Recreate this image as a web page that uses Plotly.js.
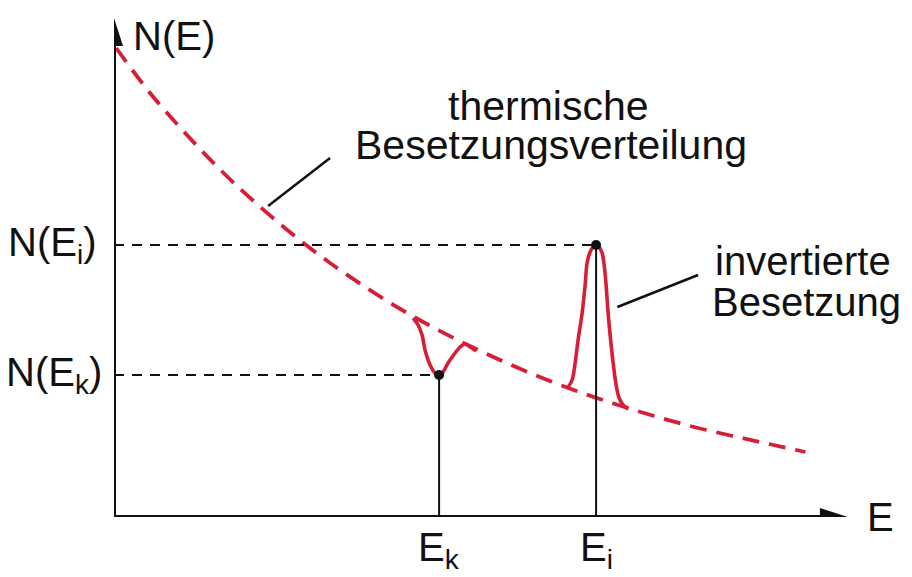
<!DOCTYPE html>
<html>
<head>
<meta charset="utf-8">
<script src="https://cdn.plot.ly/plotly-3.0.1.min.js"></script>
<style>html,body{margin:0;padding:0;background:#fff;}#chart{width:912px;height:577px;}</style>
</head>
<body>
<div id="chart"></div>
<script>
// thermal (Boltzmann) occupation curve
const thermX = [0.03, 0.5, 1, 1.5, 2, 2.5, 3, 3.5, 4, 4.5, 5, 5.5, 6, 6.5, 7, 7.5, 8, 8.5, 9, 9.6];
const thermY = [9.38, 8.48, 7.66, 6.91, 6.24, 5.63, 5.08, 4.59, 4.14, 3.74, 3.38, 3.05, 2.75, 2.48, 2.24, 2.02, 1.82, 1.65, 1.49, 1.30];
// dip around E_k
const dipX = [4.153, 4.222, 4.278, 4.319, 4.389, 4.458, 4.514, 4.569, 4.639, 4.736, 4.806, 4.875, 4.944, 5.028];
const dipY = [3.98, 3.84, 3.64, 3.34, 3.04, 2.88, 2.84, 2.90, 3.08, 3.28, 3.40, 3.46, 3.40, 3.32];
// inverted peak around E_i
const peakX = [6.306, 6.361, 6.403, 6.444, 6.500, 6.542, 6.569, 6.611, 6.653, 6.694, 6.736, 6.778, 6.806, 6.833, 6.861, 6.903, 6.931, 6.972, 7.014, 7.069, 7.139];
const peakY = [2.60, 2.74, 3.08, 3.54, 4.08, 4.64, 5.08, 5.30, 5.40, 5.44, 5.40, 5.28, 5.04, 4.64, 4.08, 3.44, 3.08, 2.64, 2.38, 2.24, 2.16];
// marked levels
const levelE = [4.514, 6.694];      // E_k, E_i
const levelN = [2.84, 5.44];        // N(E_k), N(E_i)
const levelLabelsY = ['N(E<sub>k</sub>)', 'N(E<sub>i</sub>)'];
const levelLabelsX = ['E<sub>k</sub>', 'E<sub>i</sub>'];

const RED = '#d61f36';
const FONT = 'Liberation Sans, Arial, sans-serif';

const traces = [
  {x: thermX, y: thermY, mode: 'lines', line: {color: RED, width: 3.8, dash: '17px,10px', shape: 'spline'}, hoverinfo: 'skip'},
  {x: dipX, y: dipY, mode: 'lines', line: {color: RED, width: 3.6, shape: 'spline'}, hoverinfo: 'skip'},
  {x: peakX, y: peakY, mode: 'lines', line: {color: RED, width: 3.6, shape: 'spline'}, hoverinfo: 'skip'},
  // horizontal dashed guides
  {x: [0, levelE[0]], y: [levelN[0], levelN[0]], mode: 'lines', line: {color: '#111', width: 2, dash: '10px,8px'}, hoverinfo: 'skip'},
  {x: [0, levelE[1]], y: [levelN[1], levelN[1]], mode: 'lines', line: {color: '#111', width: 2, dash: '10px,8px'}, hoverinfo: 'skip'},
  // vertical guides
  {x: [levelE[0], levelE[0]], y: [0, levelN[0]], mode: 'lines', line: {color: '#111', width: 2}, hoverinfo: 'skip'},
  {x: [levelE[1], levelE[1]], y: [0, levelN[1]], mode: 'lines', line: {color: '#111', width: 2}, hoverinfo: 'skip'},
  {x: levelE, y: levelN, mode: 'markers', marker: {color: '#111', size: 10}, hoverinfo: 'skip'}
];

const shapes = [
  {type: 'line', x0: 0, y0: 0, x1: 10.0, y1: 0, line: {color: '#111', width: 4}},
  {type: 'line', x0: 0, y0: 0, x1: 0, y1: 9.7, line: {color: '#111', width: 4}},
  {type: 'path', xsizemode: 'pixel', ysizemode: 'pixel', xanchor: 10.19, yanchor: 0,
   path: 'M0,0 L-28,9 L-28,-9 Z', fillcolor: '#111', line: {width: 0}},
  {type: 'path', xsizemode: 'pixel', ysizemode: 'pixel', xanchor: 0, yanchor: 9.98,
   path: 'M0,0 L-9,-28 L9,-28 Z', fillcolor: '#111', line: {width: 0}},
  // pointer lines
  {type: 'line', x0: 2.14, y0: 6.22, x1: 3.0, y1: 7.18, line: {color: '#111', width: 2.5}},
  {type: 'line', x0: 6.99, y0: 4.2, x1: 8.11, y1: 4.84, line: {color: '#111', width: 2.5}}
];

const f = {family: FONT, size: 40, color: '#111'};
const f2 = {family: FONT, size: 41, color: '#111'};
const annotations = [
  {x: 0.83, y: 9.62, text: 'N(E)', showarrow: false, font: f, xanchor: 'center', yanchor: 'middle'},
  {x: 6.03, y: 8.22, text: 'thermische', showarrow: false, font: f2, xanchor: 'center', yanchor: 'middle'},
  {x: 6.07, y: 7.44, text: 'Besetzungsverteilung', showarrow: false, font: f2, xanchor: 'center', yanchor: 'middle'},
  {x: 9.57, y: 5.12, text: 'invertierte', showarrow: false, font: f, xanchor: 'center', yanchor: 'middle'},
  {x: 9.61, y: 4.30, text: 'Besetzung', showarrow: false, font: f, xanchor: 'center', yanchor: 'middle'},
  {x: 0, y: levelN[0], text: levelLabelsY[0], showarrow: false, font: f, xanchor: 'right', yanchor: 'middle', xshift: -10},
  {x: 0, y: levelN[1], text: levelLabelsY[1], showarrow: false, font: f, xanchor: 'right', yanchor: 'middle', xshift: -16},
  {x: levelE[0], y: 0, text: levelLabelsX[0], showarrow: false, font: f, xanchor: 'center', yanchor: 'top', yshift: -6},
  {x: levelE[1], y: 0, text: levelLabelsX[1], showarrow: false, font: f, xanchor: 'center', yanchor: 'top', yshift: -6},
  {x: 10.64, y: 0, text: 'E', showarrow: false, font: f, xanchor: 'center', yanchor: 'middle'}
];

const ax = {showgrid: false, zeroline: false, showticklabels: false, showline: false, ticks: '', fixedrange: true};
const layout = {
  width: 912, height: 577,
  margin: {l: 114, r: 13, t: 12, b: 60},
  paper_bgcolor: '#fff', plot_bgcolor: '#fff',
  showlegend: false,
  xaxis: Object.assign({range: [0, 10.9]}, ax),
  yaxis: Object.assign({range: [0, 10.1]}, ax),
  shapes: shapes,
  annotations: annotations
};
Plotly.newPlot('chart', traces, layout, {staticPlot: true, displayModeBar: false});
</script>
</body>
</html>
